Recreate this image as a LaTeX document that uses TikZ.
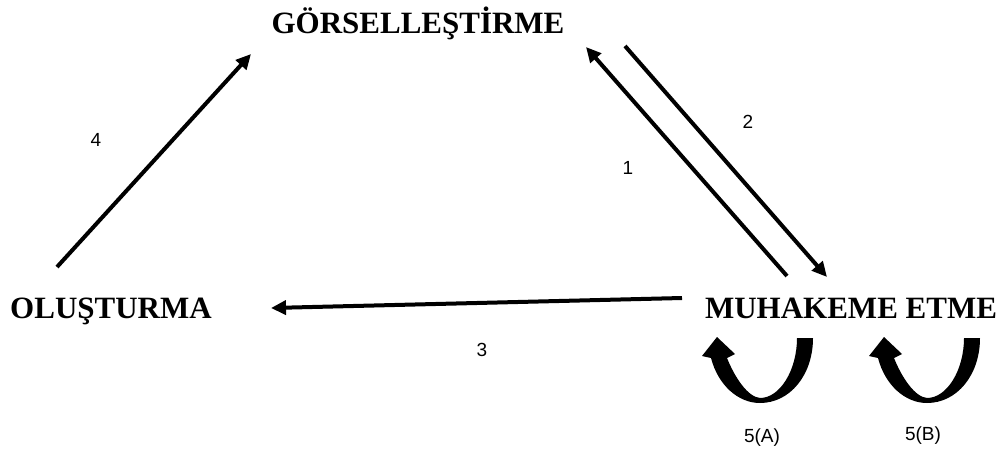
\documentclass[tikz,border=0pt]{standalone}
\usepackage{fontspec}
\setmainfont{Liberation Serif}
\newfontfamily\labelfont{Liberation Sans}
\usetikzlibrary{arrows.meta}
\begin{document}
\begin{tikzpicture}[x=1pt,y=-1pt,
  concept/.style={font=\fontsize{31}{34}\selectfont\bfseries, inner sep=0pt, anchor=base},
  num/.style={font=\labelfont\fontsize{19}{22}\selectfont, inner sep=0pt},
  link/.style={line width=4pt, -{Triangle[length=15pt,width=14pt]}},
  loop/.style={fill=black}]
\useasboundingbox (0,0) rectangle (1002,456);

% the three stages
\node[concept] (gor) at (418,33) {GÖRSELLEŞTİRME};
\node[concept] (olu) at (111,318) {OLUŞTURMA};
\node[concept] (muh) at (851,318) {MUHAKEME ETME};

% connector ends
\coordinate (m1) at (787,276);
\coordinate (g1) at (586,47);
\coordinate (g2) at (625,46);
\coordinate (m2) at (827,277);
\coordinate (m3) at (682,298);
\coordinate (o3) at (271,308);
\coordinate (o4) at (57,267);
\coordinate (g4) at (251,54);

\draw[link] (m1) -- (g1);
\draw[link] (g2) -- (m2);
\draw[link] (m3) -- (o3);
\draw[link] (o4) -- (g4);

\node[num] (n1) at (628,168) {1};
\node[num] (n2) at (748,122) {2};
\node[num] (n3) at (482,350) {3};
\node[num] (n4) at (96,140) {4};

% self-loops of reasoning
\fill[loop] (813,338) .. controls (813,375) and (790,403) .. (760,403)
  .. controls (738,403) and (718,385) .. (711,358) -- (702,356) -- (717,337)
  -- (735,354) -- (727,358) .. controls (735,378) and (748,397) .. (760,398)
  .. controls (780,398) and (797,370) .. (797,338) -- cycle;
\begin{scope}[xshift=167pt]
\fill[loop] (813,338) .. controls (813,375) and (790,403) .. (760,403)
  .. controls (738,403) and (718,385) .. (711,358) -- (702,356) -- (717,337)
  -- (735,354) -- (727,358) .. controls (735,378) and (748,397) .. (760,398)
  .. controls (780,398) and (797,370) .. (797,338) -- cycle;
\end{scope}

\node[num] (n5a) at (762,438) {5(A)};
\node[num] (n5b) at (923,436) {5(B)};
\end{tikzpicture}
\end{document}
